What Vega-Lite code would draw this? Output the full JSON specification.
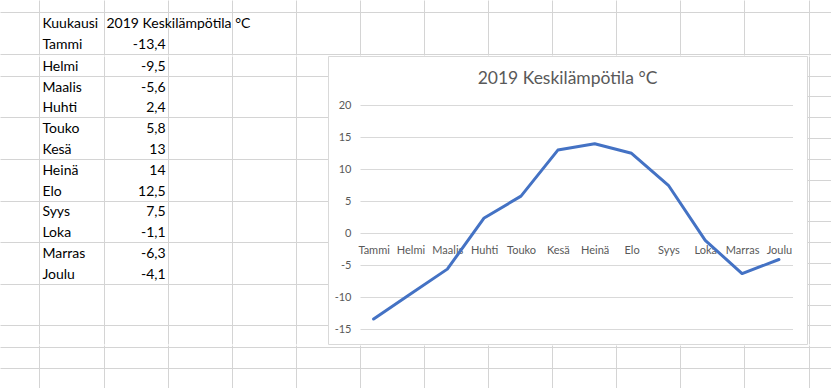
{
  "$schema": "https://vega.github.io/schema/vega-lite/v6.json",
  "padding": 0,
  "background": "white",
  "config": {
    "locale": {"number": {"decimal": ",", "thousands": " ", "grouping": [3], "currency": ["", " €"], "minus": "-"}},
    "font": "Lato",
    "view": {"stroke": null},
    "concat": {"spacing": 0},
    "axis": {"gridColor": "#D4D4D4", "gridWidth": 1, "labels": false, "ticks": false, "domain": false, "title": null, "grid": true}
  },
  "datasets": {
    "temps": [
      {"kk": 1, "Kuukausi": "Tammi", "Lampotila": -13.4},
      {"kk": 2, "Kuukausi": "Helmi", "Lampotila": -9.5},
      {"kk": 3, "Kuukausi": "Maalis", "Lampotila": -5.6},
      {"kk": 4, "Kuukausi": "Huhti", "Lampotila": 2.4},
      {"kk": 5, "Kuukausi": "Touko", "Lampotila": 5.8},
      {"kk": 6, "Kuukausi": "Kesä", "Lampotila": 13},
      {"kk": 7, "Kuukausi": "Heinä", "Lampotila": 14},
      {"kk": 8, "Kuukausi": "Elo", "Lampotila": 12.5},
      {"kk": 9, "Kuukausi": "Syys", "Lampotila": 7.5},
      {"kk": 10, "Kuukausi": "Loka", "Lampotila": -1.1},
      {"kk": 11, "Kuukausi": "Marras", "Lampotila": -6.3},
      {"kk": 12, "Kuukausi": "Joulu", "Lampotila": -4.1}
    ],
    "otsikot": [
      {"sarake": 0, "teksti": "Kuukausi"},
      {"sarake": 1, "teksti": "2019 Keskilämpötila °C"}
    ]
  },
  "vconcat": [
    {
      "width": 831,
      "height": 55,
      "layer": [
        {
          "data": {"name": "otsikot"},
          "mark": {"type": "text", "align": "left", "baseline": "middle", "dx": 3, "dy": 1.5, "fontSize": 14, "color": "black"},
          "encoding": {
            "x": {"field": "sarake", "type": "quantitative", "scale": {"domain": [-0.6147, 12.3495], "nice": false, "zero": false},
                  "axis": {"values": [0,1,2,3,4,5,6,7,8,9,10,11,12]}},
            "y": {"datum": 0, "type": "quantitative", "scale": {"domain": [-1.0913, 1.5529], "nice": false, "zero": false, "reverse": true},
                  "axis": {"values": [-0.5, 0.5, 1.5]}},
            "text": {"field": "teksti"}
          }
        },
        {
          "data": {"name": "temps"},
          "transform": [{"filter": "datum.kk == 1"}],
          "mark": {"type": "text", "align": "left", "baseline": "middle", "dx": 3, "dy": 1.5, "fontSize": 14, "color": "black"},
          "encoding": {
            "x": {"datum": 0, "type": "quantitative", "scale": {"domain": [-0.6147, 12.3495], "nice": false, "zero": false}},
            "y": {"field": "kk", "type": "quantitative", "scale": {"domain": [-1.0913, 1.5529], "nice": false, "zero": false, "reverse": true}},
            "text": {"field": "Kuukausi"}
          }
        },
        {
          "data": {"name": "temps"},
          "transform": [{"filter": "datum.kk == 1"}],
          "mark": {"type": "text", "align": "right", "baseline": "middle", "dx": -2, "dy": 1.5, "fontSize": 14, "color": "black"},
          "encoding": {
            "x": {"datum": 2, "type": "quantitative", "scale": {"domain": [-0.6147, 12.3495], "nice": false, "zero": false}},
            "y": {"field": "kk", "type": "quantitative", "scale": {"domain": [-1.0913, 1.5529], "nice": false, "zero": false, "reverse": true}},
            "text": {"field": "Lampotila", "format": ".3~r"}
          }
        }
      ]
    },
    {
      "spacing": 0,
      "bounds": "flush",
      "hconcat": [
        {
          "width": 328,
          "height": 288,
          "data": {"name": "temps"},
          "transform": [{"filter": "datum.kk >= 2"}],
          "layer": [
            {
              "mark": {"type": "text", "align": "left", "baseline": "middle", "dx": 3, "dy": 1.5, "fontSize": 14, "color": "black"},
              "encoding": {
                "x": {"datum": 0, "type": "quantitative", "scale": {"domain": [-0.6147, 4.5023], "nice": false, "zero": false},
                      "axis": {"values": [0,1,2,3,4]}},
                "y": {"field": "kk", "type": "quantitative", "scale": {"domain": [1.5529, 15.399], "nice": false, "zero": false, "reverse": true},
                      "axis": {"values": [2.5,3.5,4.5,5.5,6.5,7.5,8.5,9.5,10.5,11.5,12.5,13.5,14.5]}},
                "text": {"field": "Kuukausi"}
              }
            },
            {
              "mark": {"type": "text", "align": "right", "baseline": "middle", "dx": -2, "dy": 1.5, "fontSize": 14, "color": "black"},
              "encoding": {
                "x": {"datum": 2, "type": "quantitative", "scale": {"domain": [-0.6147, 4.5023], "nice": false, "zero": false}},
                "y": {"field": "kk", "type": "quantitative", "scale": {"domain": [1.5529, 15.399], "nice": false, "zero": false, "reverse": true}},
                "text": {"field": "Lampotila", "format": ".3~r"}
              }
            }
          ]
        },
        {
          "width": 479,
          "height": 288,
          "view": {"fill": "white", "stroke": "#D9D9D9", "strokeWidth": 1},
          "title": {"text": "2019 Keskilämpötila °C", "orient": "top", "anchor": "middle", "frame": "group", "offset": -45, "baseline": "alphabetic", "font": "Lato", "fontSize": 17.5, "fontWeight": "normal", "color": "#595959"},
          "data": {"name": "temps"},
          "mark": {"type": "line", "color": "#4472C4", "strokeWidth": 3, "strokeCap": "round", "strokeJoin": "round"},
          "encoding": {
            "x": {"field": "Kuukausi", "type": "ordinal", "sort": null,
                  "scale": {"type": "point", "padding": 1.17, "align": 0.619},
                  "axis": {"orient": "bottom", "offset": -111, "title": null, "labels": true, "labelAngle": 0, "labelFont": "Lato", "labelFontSize": 11, "labelColor": "#595959", "labelPadding": 11, "ticks": false, "tickSize": 0, "domain": false, "grid": false, "labelOverlap": false, "labelBound": false}},
            "y": {"field": "Lampotila", "type": "quantitative",
                  "scale": {"domain": [-17.3, 27.7], "nice": false, "zero": false},
                  "axis": {"values": [-15,-10,-5,0,5,10,15,20], "format": "d", "offset": -27, "title": null, "labels": true, "labelFont": "Lato", "labelFontSize": 11, "labelColor": "#595959", "labelPadding": 4, "ticks": false, "tickSize": 0, "domain": false, "grid": true, "gridColor": "#D9D9D9", "gridWidth": 1, "gridDash": [432.5, 46.5], "gridDashOffset": 447}}
          }
        },
        {
          "width": 24,
          "height": 288,
          "data": {"name": "temps"},
          "transform": [{"filter": "datum.kk >= 2"}],
          "layer": [
            {
              "mark": {"type": "text", "fontSize": 14},
              "encoding": {
                "x": {"datum": 12, "type": "quantitative", "scale": {"domain": [11.975, 12.3495], "nice": false, "zero": false},
                      "axis": {"values": [12]}},
                "y": {"field": "kk", "type": "quantitative", "scale": {"domain": [1.5529, 15.399], "nice": false, "zero": false, "reverse": true},
                      "axis": {"values": [2.5,3.5,4.5,5.5,6.5,7.5,8.5,9.5,10.5,11.5,12.5,13.5,14.5]}},
                "text": {"value": ""}
              }
            }
          ]
        }
      ]
    },
    {
      "width": 831,
      "height": 45,
      "data": {"name": "temps"},
      "mark": {"type": "text", "fontSize": 14},
      "encoding": {
        "x": {"field": "kk", "type": "quantitative", "scale": {"domain": [-0.6147, 12.3495], "nice": false, "zero": false},
              "axis": {"values": [0,1,2,3,4,5,6,7,8,9,10,11,12]}},
        "y": {"datum": 16, "type": "quantitative", "scale": {"domain": [15.399, 17.5625], "nice": false, "zero": false, "reverse": true},
              "axis": {"values": [15.5, 16.5, 17.5]}},
        "text": {"value": ""}
      }
    }
  ],
  "spacing": 0
}
